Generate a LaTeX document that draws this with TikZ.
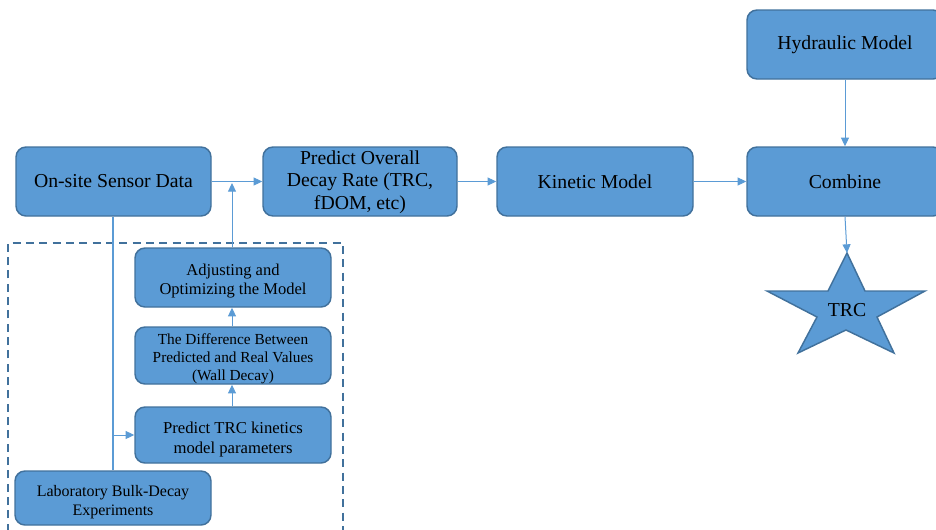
\documentclass[tikz,border=0pt]{standalone}
\usepackage{fontspec}
\setmainfont{Liberation Serif}
\usetikzlibrary{arrows.meta}
\definecolor{boxfill}{HTML}{5B9BD5}
\definecolor{boxline}{HTML}{41719C}
\definecolor{conn}{HTML}{5B9BD5}
\newcommand\lowtext[2]{\raisebox{#1}[\height][\depth]{\begin{tabular}{@{}c@{}}#2\end{tabular}}}
\begin{document}
\begin{tikzpicture}[x=0.75pt,y=-0.75pt,
  box/.style={draw=boxline,line width=1.1pt,fill=boxfill,rounded corners=7.5pt,
    align=center,inner sep=0pt,text=black},
  big/.style={font=\fontsize{14.8}{17}\selectfont},
  arr/.style={draw=conn,line width=0.75pt,-{Triangle[length=6.5pt,width=6pt]}},
  plain/.style={draw=conn,line width=0.75pt}]
\useasboundingbox (0,0) rectangle (936,529);
% dashed frame
\draw[boxline,line width=1.1pt,dash pattern=on 6pt off 4pt] (8,545) -- (8,243) -- (343,243) -- (343,545);
% main row
\node[box,big,minimum width=146.25pt,minimum height=51.75pt] (onsite) at (113.5,181.5) {On-site Sensor Data};
\node[box,big,minimum width=145.5pt,minimum height=51.75pt] (overall) at (360,181.5)
  {\lowtext{-0.6pt}{Predict Overall\\Decay Rate (TRC,\\fDOM, etc)}};
\node[box,big,minimum width=147pt,minimum height=51.75pt] (kinetic) at (595,181.5) {Kinetic Model};
\node[box,big,minimum width=147pt,minimum height=51.75pt] (combine) at (845,181.5) {Combine};
\node[box,big,minimum width=147pt,minimum height=51.75pt] (hydraulic) at (845,44.5) {Hydraulic Model};
% inner column
\node[box,font=\fontsize{12.4}{14.3}\selectfont,minimum width=147pt,minimum height=44.25pt] (adjust) at (233,277.5)
  {\lowtext{-3pt}{Adjusting and\\Optimizing the Model}};
\node[box,font=\fontsize{11.5}{13.5}\selectfont,minimum width=147pt,minimum height=42.75pt] (diff) at (233,355.5)
  {\lowtext{-2.5pt}{The Difference Between\\Predicted and Real Values\\(Wall Decay)}};
\node[box,font=\fontsize{12.5}{15}\selectfont,minimum width=147pt,minimum height=42pt] (ptrc) at (233,435)
  {\lowtext{-3.5pt}{Predict TRC kinetics\\model parameters}};
\node[box,font=\fontsize{12}{14}\selectfont,minimum width=147pt,minimum height=40.5pt] (lab) at (113,498)
  {\lowtext{-3pt}{Laboratory Bulk-Decay\\Experiments}};
% star
\draw[boxline,line width=1.1pt,fill=boxfill,line join=miter]
  (847,253) -- (865,291) -- (925,291) -- (877,317) -- (894,353) -- (846,330)
  -- (798,353) -- (817,317) -- (767,291) -- (828,291) -- cycle;
\node[big,text=black] (trc) at (847,310) {TRC};
\coordinate (startop) at (847,253);
% connectors
\coordinate (jn) at (232,183);
\coordinate (br) at (113,435);
\draw[arr] (onsite.east) -- (overall.west);
\draw[arr] (adjust.north -| jn) -- (jn);
\draw[conn,line width=1.3pt] (lab.north) -- (lab.north |- onsite.south);
\draw[arr] (br) -- (ptrc.west);
\draw[arr] (ptrc.north -| jn) -- (diff.south -| jn);
\draw[arr] (diff.north -| jn) -- (adjust.south -| jn);
\draw[arr] (overall.east) -- (kinetic.west);
\draw[arr] (kinetic.east) -- (combine.west);
\draw[arr] (hydraulic.south) -- (combine.north);
\draw[arr] (combine.south) -- (startop);
\end{tikzpicture}
\end{document}
